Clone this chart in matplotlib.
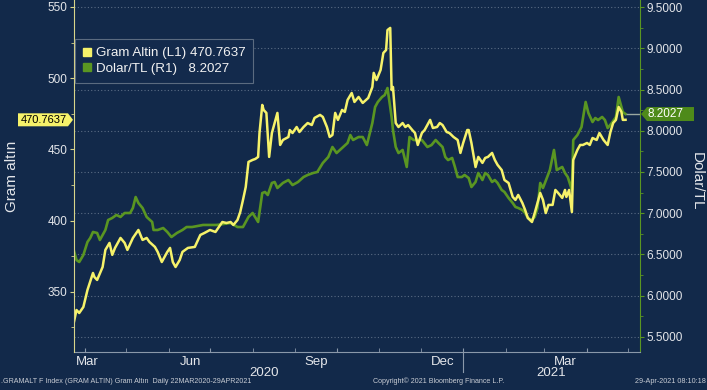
import matplotlib
matplotlib.use("Agg")
import matplotlib.pyplot as plt
import matplotlib.dates as mdates
import matplotlib.transforms as mtrans
from matplotlib.patches import Polygon
from matplotlib.lines import Line2D
from matplotlib.ticker import MultipleLocator, FormatStrFormatter, NullFormatter
from datetime import datetime
import numpy as np

plt.rcParams['font.family'] = ['Liberation Sans', 'DejaVu Sans']

# ---- data ----
# day offsets counted from 22 Mar 2020
gold_days = [2, 4, 6, 9, 12, 16, 17, 19, 23, 25, 28, 30, 32, 36, 39, 41, 45, 49, 52, 55,
             57, 61, 63, 66, 70, 72, 74, 76, 79, 81, 85, 90, 94, 97, 101, 105, 110, 113, 116, 118,
             121, 123, 125, 127, 129, 132, 134, 136, 137, 139, 140, 142, 144, 146, 148, 150, 152, 154, 158, 159,
             161, 164, 166, 169, 172, 175, 177, 181, 183, 186, 188, 190, 192, 194, 197, 199, 201, 204, 206, 209,
             212, 216, 219, 220, 222, 225, 227, 229, 230, 232, 233, 234, 236, 238, 241, 243, 245, 248, 250, 252,
             255, 257, 261, 263, 266, 268, 270, 273, 275, 278, 281, 283, 285, 288, 289, 291, 294, 296, 299, 301,
             303, 306, 308, 310, 313, 315, 318, 321, 323, 325, 328, 330, 332, 335, 337, 339, 341, 343, 345, 347,
             350, 352, 354, 357, 359, 360, 362, 364, 365, 368, 370, 372, 375, 377, 379, 382, 384, 387, 390, 392,
             394, 396, 398, 400, 401, 403]
gold_vals = [328.1, 337.2, 335.1, 339.3, 351.3, 363.2, 360.4, 358.3, 367.4, 379.4, 384.3, 375.9, 380.8, 387.8, 384.3, 379.4, 387.8, 393.4, 386.4, 387.8,
             385.0, 381.5, 378.0, 370.9, 378.0, 380.8, 370.9, 367.4, 372.3, 378.0, 380.8, 381.5, 389.9, 391.3, 393.4, 392.0, 399.0, 398.3, 399.0, 396.9,
             400.4, 406.0, 414.5, 423.6, 441.2, 442.6, 443.3, 444.7, 461.5, 481.2, 477.7, 475.6, 444.7, 461.5, 468.5, 475.6, 453.1, 456.6, 458.7, 463.6,
             461.5, 465.7, 462.2, 465.7, 468.5, 467.1, 472.1, 474.2, 472.8, 465.7, 458.7, 460.1, 475.6, 470.7, 477.7, 476.3, 484.7, 489.6, 483.3, 486.8,
             482.6, 486.1, 493.8, 503.7, 498.7, 505.8, 517.7, 519.8, 533.8, 535.3, 491.7, 493.8, 468.5, 465.7, 468.5, 465.7, 467.1, 463.6, 461.5, 453.1,
             461.5, 463.6, 470.7, 465.0, 465.7, 468.5, 467.1, 462.2, 461.5, 458.7, 456.6, 447.5, 454.5, 463.6, 463.6, 454.5, 437.6, 444.7, 440.5, 444.0,
             444.7, 447.5, 442.6, 439.1, 435.5, 428.5, 426.4, 416.6, 414.5, 418.0, 412.4, 407.5, 401.8, 399.0, 405.3, 412.4, 419.4, 414.5, 405.3, 411.0,
             411.0, 421.5, 419.4, 415.9, 421.5, 416.6, 421.5, 406.0, 442.6, 449.6, 453.1, 453.1, 454.5, 453.1, 458.0, 456.6, 461.5, 456.6, 453.1, 462.2,
             468.5, 470.7, 479.8, 476.3, 470.7, 470.7637]

usd_days = [2, 4, 6, 9, 12, 14, 16, 19, 21, 25, 27, 30, 33, 36, 39, 43, 45, 47, 49, 52,
            55, 59, 60, 63, 67, 70, 73, 77, 81, 84, 88, 96, 106, 116, 121, 125, 129, 132, 136, 139,
            141, 143, 146, 148, 150, 154, 158, 161, 165, 169, 172, 176, 179, 183, 187, 190, 193, 197, 201, 203,
            205, 209, 212, 215, 219, 221, 223, 226, 228, 230, 233, 234, 236, 238, 241, 244, 246, 249, 251, 255,
            259, 262, 265, 267, 270, 272, 274, 277, 279, 281, 284, 286, 289, 291, 294, 296, 299, 301, 303, 306,
            308, 310, 313, 315, 318, 321, 323, 325, 328, 330, 332, 335, 337, 339, 341, 343, 346, 348, 351, 353,
            357, 359, 361, 364, 365, 368, 371, 374, 376, 379, 381, 383, 386, 388, 390, 393, 396, 398, 401, 403]
usd_vals = [6.555, 6.433, 6.409, 6.494, 6.652, 6.700, 6.773, 6.761, 6.676, 6.797, 6.918, 6.943, 6.979, 6.955, 7.003, 7.003, 7.064, 7.197, 7.124, 7.064,
            6.955, 6.894, 6.797, 6.797, 6.821, 6.773, 6.712, 6.761, 6.797, 6.833, 6.833, 6.858, 6.858, 6.882, 6.833, 6.833, 6.955, 7.003, 6.894, 7.245,
            7.258, 7.221, 7.367, 7.379, 7.306, 7.367, 7.403, 7.342, 7.379, 7.439, 7.464, 7.488, 7.500, 7.609, 7.682, 7.803, 7.730, 7.791, 7.852, 7.948,
            7.888, 7.924, 7.924, 7.827, 8.094, 8.288, 8.349, 8.409, 8.433, 8.518, 8.167, 8.009, 7.803, 7.730, 7.767, 7.561, 7.924, 7.888, 7.888, 7.888,
            7.803, 7.827, 7.888, 7.852, 7.803, 7.682, 7.645, 7.670, 7.561, 7.439, 7.439, 7.464, 7.427, 7.318, 7.379, 7.488, 7.403, 7.488, 7.464, 7.379,
            7.403, 7.367, 7.282, 7.258, 7.185, 7.124, 7.076, 7.064, 7.039, 7.003, 6.943, 6.918, 6.955, 7.064, 7.367, 7.306, 7.439, 7.524, 7.767, 7.524,
            7.561, 7.488, 7.439, 7.282, 7.888, 7.948, 8.045, 8.349, 8.215, 8.106, 8.155, 8.130, 8.167, 8.130, 8.033, 8.094, 8.167, 8.409, 8.227, 8.2027]

month_labels = ["Mar", "Jun", "Sep", "Dec", "Mar"]
month_label_days = [11.6, 87, 178, 270, 359]
year_labels = ["2020", "2021"]
year_label_days = [140, 349]

BG = "#12294a"
YEL = "#f6f26a"
GRN = "#5a9622"
TXT = "#e4e6ea"
GRID = "#5a6c84"

base = mdates.date2num(datetime(2020, 3, 22))
gx = base + np.array(gold_days)
ux = base + np.array(usd_days)

fig = plt.figure(figsize=(7.07, 3.9), dpi=100)
fig.patch.set_facecolor(BG)
ax = fig.add_axes([74 / 707, 1 - 352 / 390, (640 - 74) / 707, 352 / 390])
ax2 = ax.twinx()
ax2.set_facecolor(BG)
ax.set_zorder(ax2.get_zorder() + 1)
ax.patch.set_visible(False)

ax2.plot(ux, usd_vals, color=GRN, lw=1.9, solid_joinstyle="round")
ax.plot(gx, gold_vals, color=YEL, lw=1.8, solid_joinstyle="round")
# last value guide line
ax2.hlines(usd_vals[-1], ux[-1], base + 413.5, color="#9aa8a0", lw=1)

ax.set_xlim(base + 2.2, base + 413.5)
ax.set_ylim(307.7, 554.9)
ax2.set_ylim(5.318, 9.585)

# y axes
ax.yaxis.set_major_locator(MultipleLocator(50))
ax.yaxis.set_minor_locator(MultipleLocator(25))
ax2.yaxis.set_major_locator(MultipleLocator(0.5))
ax2.yaxis.set_minor_locator(MultipleLocator(0.25))
ax2.yaxis.set_major_formatter(FormatStrFormatter("%.4f"))
ax.tick_params(axis="y", which="major", direction="out", length=3, color="#d8d48a",
               labelcolor=TXT, labelsize=8.5, pad=1.5)
ax.tick_params(axis="y", which="minor", direction="out", length=2, color="#d8d48a")
ax2.tick_params(axis="y", which="major", direction="out", length=3, color=GRN,
                labelcolor=TXT, labelsize=8.5, pad=1.5)
ax2.tick_params(axis="y", which="minor", direction="out", length=2, color=GRN)

# x axis: quarter grid, month ticks, labels at mid-month
for a in (ax, ax2):
    a.xaxis.set_major_locator(mdates.MonthLocator(bymonth=[1, 4, 7, 10]))
    a.xaxis.set_minor_locator(mdates.MonthLocator())
    a.xaxis.set_major_formatter(NullFormatter())
    a.tick_params(axis="x", which="both", direction="in", length=3, color="#8a98aa")
ax2.grid(True, which="major", axis="both", color=GRID, ls=(0, (1, 2)), lw=0.8)

for a in (ax, ax2):
    a.spines["top"].set_visible(False)
ax.spines["left"].set_color("#d8d48a")
ax2.spines["left"].set_visible(False)
ax.spines["right"].set_visible(False)
ax2.spines["right"].set_color(GRN)
ax2.spines["bottom"].set_color("#8a98aa")
ax.spines["bottom"].set_visible(False)

btrans = mtrans.blended_transform_factory(ax.transData, ax.transAxes)
for lab, d in zip(month_labels, month_label_days):
    ax.text(base + d, -0.012, lab, transform=btrans, ha="center", va="top",
            color=TXT, fontsize=9.5, clip_on=False)
for lab, d in zip(year_labels, year_label_days):
    ax.text(base + d, -0.06, lab, transform=btrans, ha="center", va="center",
            color=TXT, fontsize=9.5, clip_on=False)
ax.plot([base + 285, base + 285], [0, -0.058], transform=btrans, color="#8a98aa",
        lw=0.8, clip_on=False)

# legend
handles = [Line2D([], [], marker="s", ls="none", color=YEL, markersize=6),
           Line2D([], [], marker="s", ls="none", color=GRN, markersize=6)]
labels = ["Gram Altin (L1) 470.7637", "Dolar/TL (R1)   8.2027"]
leg = ax.legend(handles, labels, loc="upper left", bbox_to_anchor=(0.002, 0.889),
                fontsize=9.6, frameon=True, fancybox=False, facecolor="#132a4c",
                edgecolor="#5b6b80", framealpha=1, handlelength=0.6, handletextpad=0.35,
                borderpad=0.6, labelspacing=0.22, borderaxespad=0)
for t in leg.get_texts():
    t.set_color("#f2f2f2")
leg.get_frame().set_linewidth(0.8)

# axis titles
fig.text(12 / 707, 1 - 176 / 390, "Gram altın", rotation=90, ha="center", va="center",
         color=TXT, fontsize=11)
fig.text(697 / 707, 1 - 181 / 390, "Dolar/TL", rotation=270, ha="center", va="center",
         color=TXT, fontsize=11)

# last value tags
ident = mtrans.IdentityTransform()
yl = ax.transData.transform((base + 10, gold_vals[-1]))[1]
fig.add_artist(Polygon([(18, yl - 6.5), (68, yl - 6.5), (73, yl), (68, yl + 6.5), (18, yl + 6.5)],
                       closed=True, facecolor="#f6f26a", edgecolor="none", transform=ident))
fig.text(44 / 707, yl / 390, "470.7637", ha="center", va="center", color="black", fontsize=8)
yr = ax2.transData.transform((base + 10, usd_vals[-1]))[1]
fig.add_artist(Polygon([(641, yr), (647, yr + 7), (694, yr + 7), (694, yr - 7), (647, yr - 7)],
                       closed=True, facecolor="#4e8a1a", edgecolor="none", transform=ident))
fig.text(666 / 707, yr / 390, "8.2027", ha="center", va="center", color="white", fontsize=8.5)

# footer
fig.text(0.002, 0.012, ".GRAMALT F Index (GRAM ALTIN) Gram Altın  Daily 22MAR2020-29APR2021",
         color="#c8ccd4", fontsize=5.1, ha="left", va="bottom")
fig.text(373 / 707, 0.012, "Copyright© 2021 Bloomberg Finance L.P.", color="#c8ccd4",
         fontsize=5.1, ha="left", va="bottom")
fig.text(0.999, 0.012, "29-Apr-2021 08:10:18", color="#c8ccd4", fontsize=5.2, ha="right", va="bottom")

fig.savefig("out.png", dpi=100, facecolor=BG)
